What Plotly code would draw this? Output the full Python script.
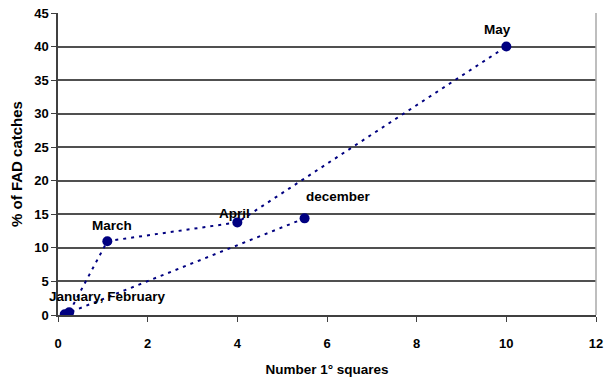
import plotly.graph_objects as go

# Data (order of the dotted path: December -> January -> ... -> May)
months = ["december", "January", "February", "March", "April", "May"]
squares = [5.5, 0.15, 0.25, 1.1, 4.0, 10.0]
fad_pct = [14.4, 0.1, 0.4, 11.0, 13.8, 40.0]
label_text = ["december", "January, February", "", "March", "April", "May"]

x_ticks = [0, 2, 4, 6, 8, 10, 12]
y_ticks = [0, 5, 10, 15, 20, 25, 30, 35, 40, 45]

# label offsets in pixels (style only)
label_shift = {
    "december": (34, 22),
    "January, February": (43, 18),
    "March": (5, 16),
    "April": (-3, 9),
    "May": (-9, 17),
}

FONT = "Liberation Sans, Arial, sans-serif"
NAVY = "#000080"

fig = go.Figure()
fig.add_trace(go.Scatter(
    x=squares, y=fad_pct, mode="lines+markers",
    line=dict(color=NAVY, width=2, dash="3px,5px"),
    marker=dict(color=NAVY, size=10),
    hoverinfo="skip", showlegend=False,
))

for xv, yv, txt in zip(squares, fad_pct, label_text):
    if not txt:
        continue
    dx, dy = label_shift[txt]
    fig.add_annotation(
        x=xv, y=yv, text=txt, showarrow=False,
        xshift=dx, yshift=dy,
        font=dict(family=FONT, size=13.5, color="black", weight="bold"),
    )

# right border of the plot area
fig.add_shape(type="line", xref="paper", yref="paper", x0=1, x1=1, y0=0, y1=1,
              line=dict(color="#a8a8a8", width=1.5))

fig.update_layout(
    width=611, height=377,
    margin=dict(l=58, r=15, t=13, b=62),
    paper_bgcolor="white", plot_bgcolor="white",
    font=dict(family=FONT, color="black"),
    xaxis=dict(
        range=[0, 12], tickvals=x_ticks, ticktext=[str(v) for v in x_ticks],
        showgrid=False, zeroline=False, automargin=False,
        showline=True, linecolor="#404040", linewidth=1.5,
        ticks="outside", ticklen=5, tickcolor="#404040", tickwidth=1,
        ticklabelstandoff=11,
        tickfont=dict(family=FONT, size=13, weight="bold", color="black"),
        title=dict(text="Number 1° squares", standoff=14,
                   font=dict(family=FONT, size=13.5, weight="bold", color="black")),
    ),
    yaxis=dict(
        range=[0, 45], tickvals=y_ticks, ticktext=[str(v) for v in y_ticks],
        showgrid=True, gridcolor="#505050", gridwidth=1.5,
        zeroline=False, automargin=False,
        showline=True, linecolor="#404040", linewidth=1.5,
        ticks="outside", ticklen=5, tickcolor="#404040", tickwidth=1,
        tickfont=dict(family=FONT, size=13, weight="bold", color="black"),
        title=dict(text="% of FAD catches", standoff=8,
                   font=dict(family=FONT, size=15, weight="bold", color="black")),
    ),
)

fig.write_html("out.html")
